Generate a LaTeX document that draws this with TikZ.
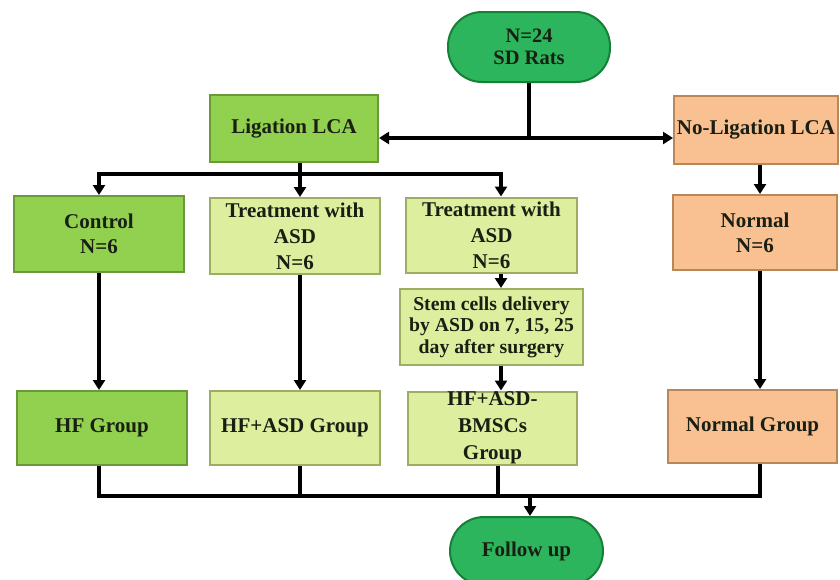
\documentclass[tikz,border=0pt]{standalone}
\usepackage{fontspec}
\setmainfont{Liberation Serif}
\usetikzlibrary{arrows.meta}
\definecolor{pillgreen}{HTML}{2DB55D}
\definecolor{pillborder}{HTML}{178038}
\definecolor{midgreen}{HTML}{92D050}
\definecolor{midborder}{HTML}{6A9A38}
\definecolor{lightgreen}{HTML}{DDEE9E}
\definecolor{lightborder}{HTML}{9CAE62}
\definecolor{peach}{HTML}{F9C091}
\definecolor{peachborder}{HTML}{B8875A}
\definecolor{txt}{HTML}{1A1F14}
\tikzset{
  base/.style={draw, line width=2pt, align=center, inner sep=0pt, text=txt,
    font=\bfseries\fontsize{21}{25}\selectfont},
  pill/.style={base, fill=pillgreen, draw=pillborder, rounded corners=34pt},
  gbox/.style={base, fill=midgreen, draw=midborder},
  lbox/.style={base, fill=lightgreen, draw=lightborder},
  obox/.style={base, fill=peach, draw=peachborder},
  conn/.style={line width=3.2pt, black},
  arr/.style={conn, -{Triangle[length=10pt,width=12pt]}},
}
\begin{document}
\begin{tikzpicture}[x=1pt,y=-1pt]
\useasboundingbox (0,0) rectangle (840,579);
\fill[white] (0,0) rectangle (840,579);
% nodes
\node[pill, minimum width=162pt, minimum height=70pt, font=\bfseries\fontsize{20.5}{22}\selectfont] (top) at (529,47) {N=24\\SD Rats};
\node[gbox, minimum width=168pt, minimum height=67pt] (lig) at (294,128.5) {Ligation LCA};
\node[obox, minimum width=164pt, minimum height=68pt] (nolig) at (756,130) {No-Ligation LCA};
\node[gbox, minimum width=170pt, minimum height=76pt] (ctrl) at (99,234) {Control\\N=6};
\node[lbox, minimum width=170pt, minimum height=76pt, font=\bfseries\fontsize{21}{26}\selectfont] (tra) at (295,236) {Treatment with\\ASD\\N=6};
\node[lbox, minimum width=171pt, minimum height=75pt, font=\bfseries\fontsize{21}{26}\selectfont] (trb) at (491.5,235) {Treatment with\\ASD\\N=6};
\node[obox, minimum width=164pt, minimum height=75pt] (normal) at (755,232.5) {Normal\\N=6};
\node[lbox, minimum width=183pt, minimum height=76pt, font=\bfseries\fontsize{19.7}{21.5}\selectfont] (stem) at (491.5,327) {Stem cells delivery\\by ASD on 7, 15, 25\\day after surgery};
\node[gbox, minimum width=170pt, minimum height=74pt] (hf) at (102,428) {HF Group};
\node[lbox, minimum width=170pt, minimum height=74pt] (hfasd) at (295,428) {HF+ASD Group};
\node[lbox, minimum width=169pt, minimum height=73pt, font=\bfseries\fontsize{21}{27}\selectfont] (bmsc) at (492.5,428) {HF+ASD-\\BMSCs\\Group};
\node[obox, minimum width=169pt, minimum height=73pt] (ngrp) at (752.5,426.5) {Normal Group};
\node[pill, minimum width=153pt, minimum height=68pt] (follow) at (526.5,551) {Follow up};
% junction coordinates
\coordinate (j1) at (529,138);
\coordinate (j2) at (300,174);
\coordinate (j2l) at (99,174);
\coordinate (j2r) at (501,174);
\coordinate (j3) at (530,496);
\coordinate (j3l) at (99,496);
\coordinate (j3b) at (300,496);
\coordinate (j3c) at (498,496);
\coordinate (j3r) at (760,496);
% connectors
\draw[conn] (top.south) -- (j1);
\draw[arr] (j1) -- (j1 -| lig.east);
\draw[arr] (j1) -- (j1 -| nolig.west);
\draw[conn] (j2 |- lig.south) -- (j2);
\draw[conn, line cap=rect] (j2l) -- (j2r);
\draw[arr] (j2l) -- (j2l |- ctrl.north);
\draw[arr] (j2) -- (j2 |- tra.north);
\draw[arr] (j2r) -- (j2r |- trb.north);
\draw[arr] (nolig.south -| j3r) -- (normal.north -| j3r);
\draw[arr] (ctrl.south -| j2l) -- (hf.north -| j2l);
\draw[arr] (tra.south -| j2) -- (hfasd.north -| j2);
\draw[arr] (trb.south -| j2r) -- (stem.north -| j2r);
\draw[arr] (stem.south -| j2r) -- (bmsc.north -| j2r);
\draw[arr] (normal.south -| j3r) -- (ngrp.north -| j3r);
\draw[conn] (hf.south -| j3l) -- (j3l);
\draw[conn] (hfasd.south -| j3b) -- (j3b);
\draw[conn] (bmsc.south -| j3c) -- (j3c);
\draw[conn] (ngrp.south -| j3r) -- (j3r);
\draw[conn, line cap=rect] (j3l) -- (j3r);
\draw[arr] (j3) -- (follow.north -| j3);
\end{tikzpicture}
\end{document}
